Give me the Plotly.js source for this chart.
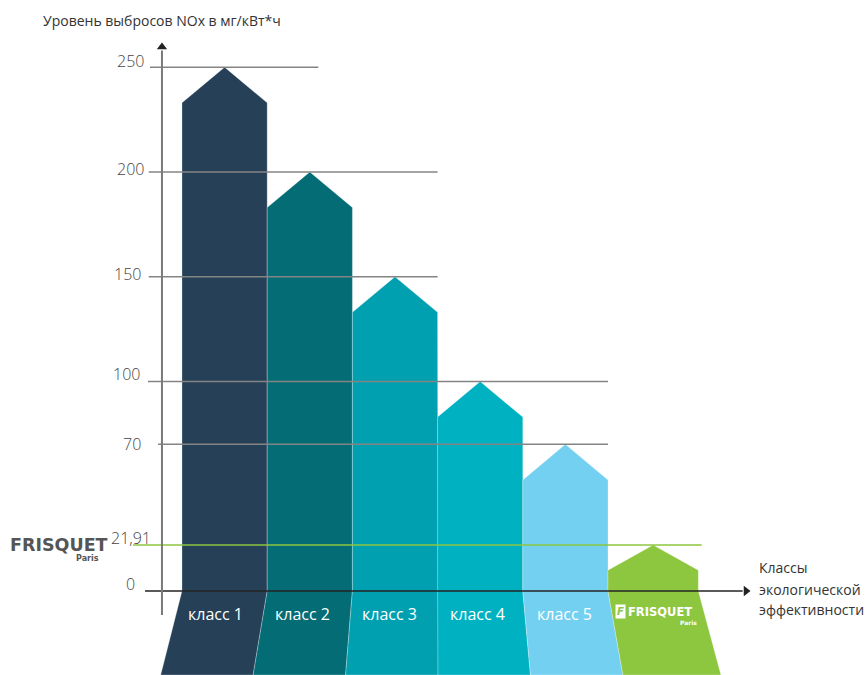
<!DOCTYPE html>
<html>
<head>
<meta charset="utf-8">
<script src="https://cdn.plot.ly/plotly-3.0.1.min.js"></script>
<style>html,body{margin:0;padding:0;background:#fff;}#chart{width:866px;height:675px;}</style>
</head>
<body>
<div id="chart"></div>
<script>
// ---- data ----
const classes = ['класс 1', 'класс 2', 'класс 3', 'класс 4', 'класс 5', 'FRISQUET'];
const nox = [250, 200, 150, 100, 70, 21.91];
const tickVals = [250, 200, 150, 100, 70, 21.91, 0];
const tickText = ['250', '200', '150', '100', '70', '21,91', '0'];
const yTitle = 'Уровень выбросов NOx в мг/кВт*ч';
const xTitle = ['Классы', 'экологической', 'эффективности'];

// ---- style ----
const colors = ['#264157', '#036c74', '#00a0b1', '#00b1c1', '#74d0f1', '#8dc63f'];
const widths = [1, 1, 1, 1, 1, 1.06];
const shoulders = [17, 17, 17, 17, 17, 12];   // depth of the arrow heads, value units
const Y_MIN = -40.1, Y_MAX = 282.1;
const X_MIN = -2.136, X_MAX = 8.028;
const fan = u => -0.25 + 1.085 * u; // perspective of the lower part
const gridStart = [-0.376, -0.39, -0.39, -0.40, -0.28, -0.575];
const gridEnd = [1.6, 3.0, 3.0, 5.0, 5.0, 6.1];
const labelX = [-0.423, -0.423, -0.458, -0.469, -0.458, -0.34, -0.528];
const labelShift = [6, 3, 3, 7, 0, 7, 7];
const FONT = '"Open Sans", "DejaVu Sans", sans-serif';

const traces = [];
let left = 0;
const lefts = [];
nox.forEach((v, i) => {
  const L = left, R = left + widths[i], M = (L + R) / 2, s = shoulders[i];
  lefts.push(L);
  traces.push({
    type: 'scatter', mode: 'lines', fill: 'toself',
    x: [L, M, R, R, fan(R), fan(L), L, L],
    y: [v - s, v, v - s, 0, Y_MIN, Y_MIN, 0, v - s],
    fillcolor: colors[i],
    line: {color: 'rgba(255,255,255,0.35)', width: 0.8},
    hoverinfo: 'skip', showlegend: false
  });
  left = R;
});

// arrow heads of the axes
traces.push({
  type: 'scatter', mode: 'markers',
  x: [-0.235, 6.62], y: [259.7, 0],
  marker: {symbol: ['triangle-up', 'triangle-right'], size: 9, color: '#222'},
  hoverinfo: 'skip', showlegend: false
});

const shapes = [];
tickVals.slice(0, 6).forEach((t, i) => {
  shapes.push({type: 'line', layer: 'above', xref: 'x', yref: 'y',
    x0: gridStart[i], x1: gridEnd[i], y0: t, y1: t,
    line: {color: i === 5 ? '#8dc63f' : '#848484', width: 1.5}});
});
// x axis
shapes.push({type: 'line', layer: 'above', x0: -0.434, x1: 6.58, y0: 0, y1: 0,
  line: {color: 'rgba(35,35,35,0.75)', width: 2}});
// y axis
shapes.push({type: 'line', layer: 'above', x0: -0.235, x1: -0.235, y0: -11.5, y1: 258,
  line: {color: '#7a7a7a', width: 2}});

const annotations = [];
tickText.forEach((t, i) => {
  annotations.push({x: labelX[i], y: tickVals[i], xref: 'x', yref: 'y', text: t,
    showarrow: false, xanchor: 'right', yanchor: 'middle', yshift: labelShift[i],
    font: {family: FONT, size: 16, color: '#444', weight: 300}});
});
const labelY = -11;
const t = -labelY / -Y_MIN;
classes.forEach((c, i) => {
  if (i === 5) return;
  const M = lefts[i] + widths[i] / 2;
  annotations.push({x: M + t * (fan(M) - M) - 0.05, y: labelY, text: c, showarrow: false,
    xanchor: 'center', yanchor: 'middle',
    font: {family: FONT, size: 16, color: '#ffffff'}});
});
// Frisquet logo inside the green bar
{
  const M = lefts[5] + widths[5] / 2;
  annotations.push({x: M + 0.08, y: labelY + 1, text: '<b>' + classes[5] + '</b>', showarrow: false,
    xanchor: 'center', yanchor: 'middle',
    font: {family: '"DejaVu Sans", sans-serif', size: 11.5, color: '#ffffff'}});
  annotations.push({x: M + 0.42, y: labelY - 4.2, text: '<b>Paris</b>', showarrow: false,
    xanchor: 'center', yanchor: 'middle',
    font: {family: '"DejaVu Sans", sans-serif', size: 6, color: '#ffffff'}});
  annotations.push({x: M - 0.38, y: labelY + 1, text: '<b><i>F</i></b>', showarrow: false,
    xanchor: 'center', yanchor: 'middle', bgcolor: '#ffffff', borderpad: 1,
    font: {family: '"DejaVu Sans", sans-serif', size: 10, color: '#8dc63f'}});
}
// Frisquet logo at the left
annotations.push({x: 8 / 866, y: 1 - 545 / 675, xref: 'paper', yref: 'paper',
  text: '<b>FRISQUET</b>', showarrow: false, xanchor: 'left', yanchor: 'middle',
  font: {family: '"DejaVu Sans", sans-serif', size: 17.5, color: '#555'}});
annotations.push({x: 101 / 866, y: 1 - 558 / 675, xref: 'paper', yref: 'paper',
  text: '<b>Paris</b>', showarrow: false, xanchor: 'right', yanchor: 'middle',
  font: {family: '"DejaVu Sans", sans-serif', size: 8, color: '#555'}});
// axis titles
annotations.push({x: 41 / 866, y: 1 - 20 / 675, xref: 'paper', yref: 'paper',
  text: yTitle, showarrow: false, xanchor: 'left', yanchor: 'middle',
  font: {family: FONT, size: 14, color: '#333'}});
const xtY = [567, 589, 609];
xTitle.forEach((s, i) => {
  annotations.push({x: 757 / 866, y: 1 - xtY[i] / 675, xref: 'paper', yref: 'paper',
    text: s, showarrow: false, xanchor: 'left', yanchor: 'middle',
    font: {family: FONT, size: 14, color: '#333'}});
});

const layout = {
  width: 866, height: 675,
  margin: {l: 0, r: 0, t: 0, b: 0},
  paper_bgcolor: '#fff', plot_bgcolor: '#fff',
  xaxis: {range: [X_MIN, X_MAX], visible: false, fixedrange: true},
  yaxis: {range: [Y_MIN, Y_MAX], visible: false, fixedrange: true},
  shapes: shapes, annotations: annotations, showlegend: false
};
Plotly.newPlot('chart', traces, layout, {displayModeBar: false, staticPlot: true});
</script>
</body>
</html>
